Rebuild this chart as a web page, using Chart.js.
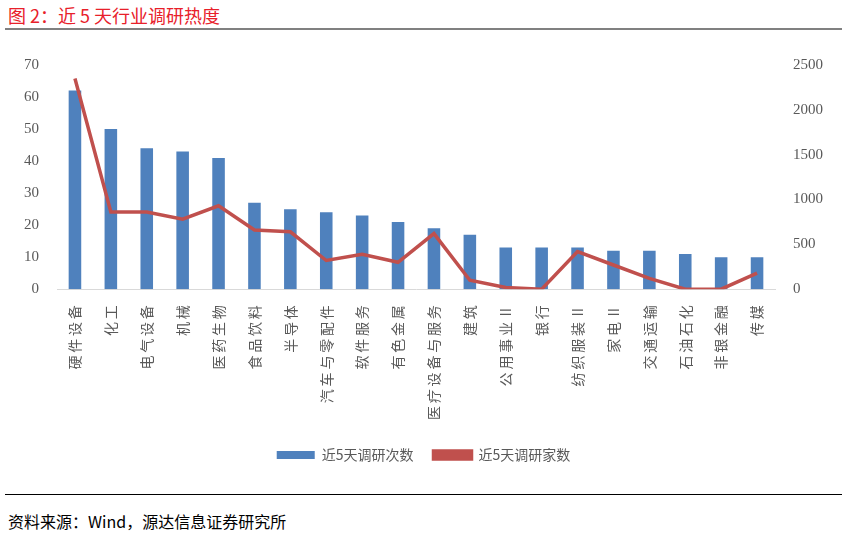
<!DOCTYPE html><html><head><meta charset="utf-8">
<script src="https://cdn.jsdelivr.net/npm/chart.js@4"></script>
<style>body{margin:0;background:#fff;font-family:"Noto Sans CJK SC";}
#t{position:absolute;left:8px;top:2px;color:#e8202a;font-size:18px;}
.l{position:absolute;left:5px;width:837px;height:2px;background:#808080;}
#s{position:absolute;left:8px;top:509px;font-size:16px;color:#000;}
#w{position:absolute;left:0;top:46px;width:847px;height:426px;}</style></head><body>
<div id="t">图 2：近 5 天行业调研热度</div><div class="l" style="top:28px"></div>
<div class="l" style="top:494px;height:1px;background:#000"></div>
<div id="s">资料来源：Wind，源达信息证券研究所</div>
<div id="w"><canvas id="c"></canvas></div>
<script>
const categories=["硬件设备","化工","电气设备","机械","医药生物","食品饮料","半导体","汽车与零配件","软件服务","有色金属","医疗设备与服务","建筑","公用事业Ⅱ","银行","纺织服装Ⅱ","家电Ⅱ","交通运输","石油石化","非银金融","传媒"];
const visits=[62,50,44,43,41,27,25,24,23,21,19,17,13,13,13,12,12,11,10,10];
const companies=[2350,860,860,780,930,660,640,320,390,300,620,100,20,0,420,270,120,0,0,180];
const spaced=categories.map(s=>Array.from(s).join('\u2009'));
const tickFont={family:"'Liberation Serif','Noto Serif',serif",size:15};
new Chart(document.getElementById('c'),{data:{labels:spaced,datasets:[
{type:'line',label:'近5天调研家数',data:companies,yAxisID:'y1',borderColor:'#c0504d',backgroundColor:'#c0504d',borderWidth:3.5,pointRadius:0,tension:0,order:0},
{type:'bar',label:'近5天调研次数',data:visits,yAxisID:'y',backgroundColor:'#4f81bd',barPercentage:0.35,categoryPercentage:1,order:1}]},
options:{responsive:true,maintainAspectRatio:false,animation:false,
layout:{padding:{left:14,right:14,top:12,bottom:0}},
plugins:{legend:{position:'bottom',reverse:true,labels:{color:'#595959',font:{family:"'Noto Sans CJK SC'",size:14},boxWidth:38,boxHeight:8,padding:20}},tooltip:{enabled:false}},
scales:{x:{grid:{display:false},border:{color:'#d9d9d9'},ticks:{color:'#595959',minRotation:90,maxRotation:90,autoSkip:false,padding:8,font:{family:"'Noto Sans CJK SC'",size:14}}},
y:{min:0,max:70,ticks:{stepSize:10,color:'#595959',font:tickFont,padding:10},grid:{display:false},border:{display:false}},
y1:{position:'right',min:0,max:2500,ticks:{stepSize:500,color:'#595959',font:tickFont,padding:10,callback:v=>String(v)},grid:{display:false},border:{display:false}}}}});
</script></body></html>
